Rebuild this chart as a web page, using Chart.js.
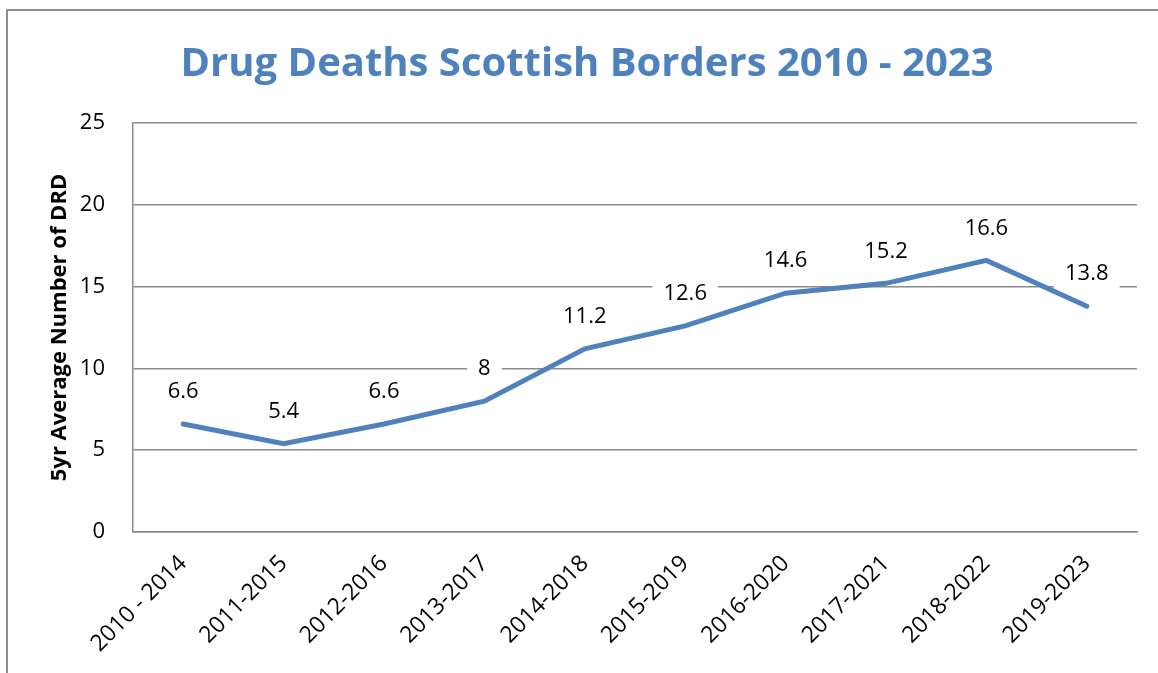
<!DOCTYPE html>
<html>
<head>
<meta charset="utf-8">
<script src="https://cdn.jsdelivr.net/npm/chart.js@4/dist/chart.umd.min.js"></script>
<style>
  html, body { margin: 0; padding: 0; background: #fff; }
  #wrap { position: relative; width: 1158px; height: 673px; overflow: hidden; }
  #frame { position: absolute; left: 6px; top: 9px; width: 1250px; height: 800px; border: 2px solid #8f8f8f; box-sizing: border-box; pointer-events: none; }
  canvas { position: absolute; left: 0; top: 0; }
</style>
</head>
<body>
<div id="wrap">
  <canvas id="c" width="1158" height="673"></canvas>
  <div id="frame"></div>
</div>
<script>
const categories = ["2010 - 2014", "2011-2015", "2012-2016", "2013-2017", "2014-2018",
                    "2015-2019", "2016-2020", "2017-2021", "2018-2022", "2019-2023"];
const averages = [6.6, 5.4, 6.6, 8, 11.2, 12.6, 14.6, 15.2, 16.6, 13.8];
const yTicks = [0, 5, 10, 15, 20, 25];
const titleText = "Drug Deaths Scottish Borders 2010 - 2023";
const yAxisTitle = "5yr Average Number of DRD";

const FONT = '"Open Sans", "Noto Sans", sans-serif';
const BLUE = '#4F81BD';
const GRID = '#8a8a8a';

const pointLabels = {
  id: 'pointLabels',
  beforeDatasetsDraw(chart) {
    const ctx = chart.ctx;
    const meta = chart.getDatasetMeta(0);
    const vals = chart.data.datasets[0].data;
    ctx.save();
    ctx.font = '22px ' + FONT;
    ctx.textAlign = 'center';
    ctx.textBaseline = 'middle';
    meta.data.forEach((pt, i) => {
      const txt = String(vals[i]);
      const w = ctx.measureText(txt).width + 22;
      const h = 44;
      const x = pt.x, y = pt.y - 32;
      ctx.fillStyle = '#ffffff';
      ctx.fillRect(x - w / 2, y - h / 2, w, h);
      ctx.fillStyle = '#000000';
      ctx.fillText(txt, x, y);
    });
    ctx.restore();
  }
};

new Chart(document.getElementById('c'), {
  type: 'line',
  data: {
    labels: categories,
    datasets: [{
      data: averages,
      borderColor: BLUE,
      backgroundColor: BLUE,
      borderWidth: 5,
      borderCapStyle: 'round',
      borderJoinStyle: 'miter',
      pointRadius: 0,
      pointHoverRadius: 0,
      tension: 0,
      fill: false
    }]
  },
  options: {
    responsive: false,
    animation: false,
    events: [],
    layout: { padding: { left: 37, right: 21, top: 0, bottom: 0 } },
    plugins: {
      legend: { display: false },
      tooltip: { enabled: false },
      title: {
        display: true,
        text: titleText,
        color: BLUE,
        font: { family: FONT, size: 40, weight: 'bold', lineHeight: 1.2 },
        padding: { top: 41, bottom: 34 }
      }
    },
    scales: {
      x: {
        type: 'category',
        offset: true,
        grid: { display: false, drawTicks: false },
        border: { display: true, color: GRID, width: 1.5 },
        ticks: {
          color: '#000',
          font: { family: FONT, size: 23 },
          minRotation: 45,
          maxRotation: 45,
          autoSkip: false,
          padding: 18
        },
        afterFit(scale) { scale.height = 141; }
      },
      y: {
        min: 0,
        max: 25,
        afterBuildTicks(scale) { scale.ticks = yTicks.map(v => ({ value: v })); },
        grid: { color: GRID, lineWidth: 1.5, drawTicks: false },
        border: { display: true, color: GRID, width: 1.5 },
        ticks: {
          color: '#000',
          font: { family: FONT, size: 22 },
          padding: 28
        },
        title: {
          display: true,
          text: yAxisTitle,
          color: '#000',
          font: { family: FONT, size: 22, weight: 'bold', lineHeight: 1.2 },
          padding: { top: 10, bottom: 0 }
        },
        afterFit(scale) { scale.width = 96; }
      }
    }
  },
  plugins: [pointLabels]
});
</script>
</body>
</html>
